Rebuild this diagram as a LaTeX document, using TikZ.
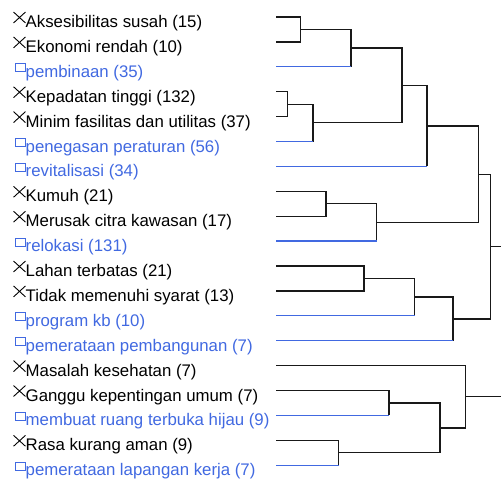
\documentclass[tikz,border=0pt]{standalone}
\usepackage{fontspec}
\setmainfont{Liberation Sans}
\usetikzlibrary{shapes.misc}
\definecolor{lblue}{RGB}{65,105,225}
\definecolor{lblack}{RGB}{25,25,25}
\begin{document}
\begin{tikzpicture}[x=1pt,y=-1pt,
  lbl/.style={anchor=base west, inner sep=0pt, font=\fontsize{16.8}{20}\selectfont},
  varlbl/.style={lbl, text=black},
  actlbl/.style={lbl, text=lblue},
  xmark/.style={cross out, draw=black, line width=0.9pt, minimum width=11pt, minimum height=10pt, inner sep=0pt},
  bmark/.style={rectangle, draw=lblue, line width=0.9pt, minimum width=10pt, minimum height=8pt, inner sep=0pt},
  br/.style={draw=lblack, line width=1.3pt},
  bb/.style={draw=lblue, line width=1.3pt},
]
\useasboundingbox (0,0) rectangle (501,480);
\foreach \i/\k/\t in {
  0/1/{Aksesibilitas susah (15)},
  1/1/{Ekonomi rendah (10)},
  2/0/{pembinaan (35)},
  3/1/{Kepadatan tinggi (132)},
  4/1/{Minim fasilitas dan utilitas (37)},
  5/0/{penegasan peraturan (56)},
  6/0/{revitalisasi (34)},
  7/1/{Kumuh (21)},
  8/1/{Merusak citra kawasan (17)},
  9/0/{relokasi (131)},
  10/1/{Lahan terbatas (21)},
  11/1/{Tidak memenuhi syarat (13)},
  12/0/{program kb (10)},
  13/0/{pemerataan pembangunan (7)},
  14/1/{Masalah kesehatan (7)},
  15/1/{Ganggu kepentingan umum (7)},
  16/0/{membuat ruang terbuka hijau (9)},
  17/1/{Rasa kurang aman (9)},
  18/0/{pemerataan lapangan kerja (7)}}{
  \pgfmathsetmacro\yy{17+24.9*\i}
  \coordinate (l\i) at (276,\yy);
  \ifnum\k=1
    \node[xmark] (mk\i) at (19.5,\yy+0.5) {};
    \node[varlbl] (t\i) at (25.5,\yy+10.5) {\t};
  \else
    \node[bmark] (mk\i) at (20,\yy+1) {};
    \node[actlbl] (t\i) at (25.5,\yy+10.5) {\t};
  \fi
}
% merge points
\coordinate (m1) at (300.7,29.45);
\coordinate (m2) at (351,48.1);
\coordinate (m3) at (287.7,104.15);
\coordinate (m4) at (313,122.8);
\coordinate (m5) at (402,85.5);
\coordinate (m6) at (427,126);
\coordinate (m7) at (326,203.75);
\coordinate (m8) at (376.7,222.4);
\coordinate (m9) at (478.7,174.2);
\coordinate (m10) at (364,278.45);
\coordinate (m11) at (414.7,297.1);
\coordinate (m12) at (453,318.9);
\coordinate (m13) at (490.7,246.6);
\coordinate (m14) at (389,402.95);
\coordinate (m15) at (338.7,452.75);
\coordinate (m16) at (440,427.85);
\coordinate (m17) at (465.7,396.7);
\coordinate (r1) at (501,246.6);
\coordinate (r2) at (501,396.7);
% brackets
\draw[br] (l0) -| (m1) |- (l1);
\draw[br] (m1) -| (m2) -- (m2 |- l2);
\draw[bb] (m2 |- l2) -- (l2);
\draw[br] (l3) -| (m3) |- (l4);
\draw[br] (m3) -| (m4) -- (m4 |- l5);
\draw[bb] (m4 |- l5) -- (l5);
\draw[br] (m2) -| (m5) |- (m4);
\draw[br] (m5) -| (m6) -- (m6 |- l6);
\draw[bb] (m6 |- l6) -- (l6);
\draw[br] (l7) -| (m7) |- (l8);
\draw[br] (m7) -| (m8) -- (m8 |- l9);
\draw[bb] (m8 |- l9) -- (l9);
\draw[br] (m6) -| (m9) |- (m8);
\draw[br] (l10) -| (m10) |- (l11);
\draw[br] (m10) -| (m11) -- (m11 |- l12);
\draw[bb] (m11 |- l12) -- (l12);
\draw[br] (m11) -| (m12) -- (m12 |- l13);
\draw[bb] (m12 |- l13) -- (l13);
\draw[br] (m9) -| (m13) |- (m12);
\draw[br] (m13) -- (r1);
\draw[br] (l15) -| (m14) -- (m14 |- l16);
\draw[bb] (m14 |- l16) -- (l16);
\draw[br] (l17) -| (m15) -- (m15 |- l18);
\draw[bb] (m15 |- l18) -- (l18);
\draw[br] (m14) -| (m16) |- (m15);
\draw[br] (l14) -| (m17) |- (m16);
\draw[br] (m17) -- (r2);
\end{tikzpicture}
\end{document}
